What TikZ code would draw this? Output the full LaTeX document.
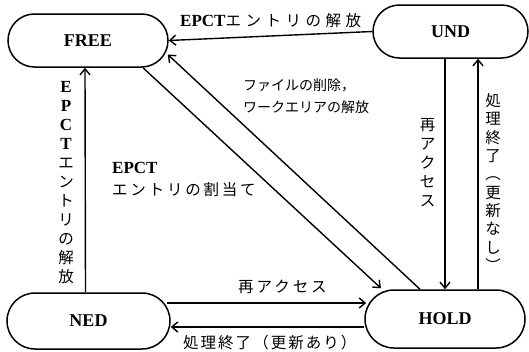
\documentclass[tikz,border=0pt]{standalone}
\usepackage{fontspec}
\setmainfont{Liberation Serif}
\newfontfamily\jp{Noto Sans CJK JP}
\usetikzlibrary{arrows.meta,shapes.misc}
\newcommand\lat[1]{{\rmfamily\bfseries\fontsize{17}{19}\selectfont #1}}
\tikzset{
  state/.style={rounded rectangle, draw, line width=1.5pt, inner sep=0pt,
    font=\rmfamily\bfseries\fontsize{18}{18}\selectfont},
  arr/.style={line width=1.4pt, -{Straight Barb[length=6pt,width=10pt]}},
  lab/.style={inner sep=0pt, anchor=west, align=left},
  vlab/.style={inner sep=0pt, align=center}
}
\begin{document}
\begin{tikzpicture}[x=1pt,y=-1pt]
\useasboundingbox (0,0) rectangle (529,351);
% states
\node[state, minimum width=160pt, minimum height=53pt] (FREE) at (88,40.5) {FREE};
\node[state, minimum width=155pt, minimum height=53pt] (UND) at (450.5,31.5) {UND};
\node[state, minimum width=163pt, minimum height=56pt] (NED) at (88.5,321) {NED};
\node[state, minimum width=160pt, minimum height=58pt] (HOLD) at (445,319) {HOLD};
% connectors
\draw[arr] (UND.west) -- (FREE.east);
\draw[arr] ([xshift=-25pt]HOLD.north) -- ([xshift=-1pt,yshift=-14pt]FREE.east);
\draw[arr] ([xshift=55pt]FREE.south) -- ([xshift=-64pt,yshift=1pt]HOLD.north);
\draw[arr] ([xshift=-3pt]NED.north) -- ([xshift=-3pt]FREE.south);
\draw[arr] ([xshift=-5.5pt]UND.south) -- (HOLD.north);
\draw[arr] ([xshift=33pt]HOLD.north) -- ([xshift=27.5pt]UND.south);
\draw[arr] ([xshift=-4pt,yshift=18pt]NED.east) -- ([xshift=2pt,yshift=16pt]HOLD.west);
\draw[arr] ([yshift=-8pt]HOLD.west) -- ([yshift=-6pt]NED.east);
% labels
\node[lab, font=\jp\fontsize{15.5}{16}\selectfont\addfontfeature{LetterSpace=29}] (l1) at (180,21)
  {\lat{EPCT}エントリの解放};
\node[vlab, font=\jp\fontsize{15.5}{19}\selectfont] (l2) at (66,183)
  {\lat{E}\\\lat{P}\\\lat{C}\\\lat{T}\\エ\\ン\\ト\\リ\\の\\解\\放};
\node[lab, font=\jp\fontsize{14}{22}\selectfont] (l3) at (243,96)
  {ファイルの削除，\\ワークエリアの解放};
\node[lab, font=\jp\fontsize{15.5}{22}\selectfont\addfontfeature{LetterSpace=18}] (l4) at (112,179)
  {\lat{EPCT}\\エントリの割当て};
\node[vlab, font=\jp\fontsize{15.5}{19}\selectfont] (l5) at (427.5,162.5)
  {再\\ア\\ク\\セ\\ス};
\node[vlab, font=\jp\fontsize{15.5}{18.3}\selectfont] (l6) at (493,182.5)
  {処\\理\\終\\了\\︵\\更\\新\\な\\し\\︶};
\node[lab, font=\jp\fontsize{15.5}{16}\selectfont\addfontfeature{LetterSpace=19}] (l7) at (238,287)
  {再アクセス};
\node[lab, font=\jp\fontsize{15.5}{16}\selectfont\addfontfeature{LetterSpace=13}] (l8) at (183,343)
  {処理終了（更新あり）};
\end{tikzpicture}
\end{document}
